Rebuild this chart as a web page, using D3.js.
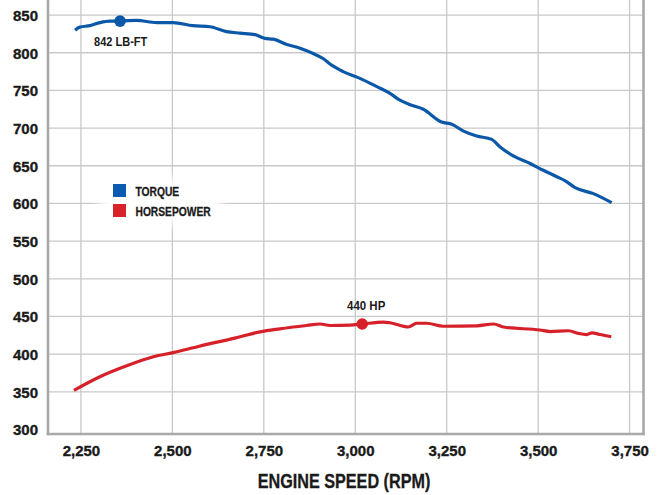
<!DOCTYPE html>
<html>
<head>
<meta charset="utf-8">
<script src="https://cdn.jsdelivr.net/npm/d3@7"></script>
<style>
  body { margin: 0; background: #fff; }
  svg { display: block; }
  .tick-label { font-family: "Liberation Sans", Arial, sans-serif; font-weight: bold; font-size: 15px; fill: #1a1a1a; stroke: #1a1a1a; stroke-width: 0.35px; }
  .narrow { font-family: "Liberation Sans", Arial, sans-serif; font-weight: bold; fill: #1a1a1a; stroke: #1a1a1a; stroke-width: 0.3px; }
  .note { font-family: "Liberation Sans", Arial, sans-serif; font-weight: bold; fill: #1a1a1a; }
</style>
</head>
<body>
<svg id="chart"></svg>
<script>
const W = 660, H = 495

// engine speed (rpm) / torque (lb-ft)
const torqueRpm = [2234, 2247, 2275, 2302, 2329, 2357, 2402, 2457, 2502, 2556, 2603, 2648, 2685, 2726, 2753, 2776, 2813, 2849, 2885, 2913, 2931, 2967, 3013, 3059, 3095, 3122, 3150, 3186, 3236, 3264, 3296, 3332, 3373, 3396, 3432, 3478, 3514, 3551, 3574, 3601, 3651, 3701]
const torqueVal = [830, 834, 836, 840, 842, 842, 843, 840, 840, 836, 834.5, 828, 826, 824, 819, 818, 811, 806, 799, 792, 785, 775, 766, 755, 746, 737, 731, 725, 708, 705, 696, 689.5, 685, 675, 663, 653, 644, 635.5, 630, 621, 613, 601]

// engine speed (rpm) / horsepower
const hpRpm = [2231, 2302, 2375, 2448, 2502, 2557, 2603, 2648, 2685, 2740, 2794, 2867, 2904, 2931, 2986, 3019, 3077, 3095, 3145, 3168, 3195, 3241, 3332, 3378, 3405, 3505, 3533, 3583, 3610, 3633, 3647, 3670, 3700]
const hpVal = [352, 370, 384.5, 396.5, 402, 408.5, 414, 418.6, 423, 429.6, 433.6, 438, 440, 438, 438.5, 440, 442.5, 441.6, 436, 441, 441, 437, 437.6, 440, 436, 432, 430, 431, 427.5, 426, 428.3, 426, 423]

const xTicks = [2250, 2500, 2750, 3000, 3250, 3500, 3750]
const yTicks = [300, 350, 400, 450, 500, 550, 600, 650, 700, 750, 800, 850]
const gridY = [350, 400, 450, 500, 550, 600, 650, 700, 750, 800, 850]

const peaks = [
  { rpm: 2357, val: 842, label: '842 LB-FT', color: '#0b58a8' },
  { rpm: 3019, val: 440, label: '440 HP', color: '#d6202a' },
]
const legendItems = [
  { label: 'TORQUE', color: '#0b5bb0' },
  { label: 'HORSEPOWER', color: '#d8232a' },
]

const svg = d3.select('#chart').attr('width', W).attr('height', H)

const x = d3.scaleLinear().domain([2160, 3788]).range([48, 643.5])
const y = d3.scaleLinear().domain([294, 870]).range([434, 0])

const defs = svg.append('defs')
defs.append('filter').attr('id', 'soft')
  .attr('x', '-20%').attr('y', '-40%').attr('width', '140%').attr('height', '180%')
  .append('feGaussianBlur').attr('stdDeviation', 6)

// grid
const grid = svg.append('g').attr('class', 'grid')
grid.selectAll('line.h').data(gridY).join('line')
  .attr('class', 'h')
  .attr('x1', x.range()[0]).attr('x2', x.range()[1])
  .attr('y1', d => y(d)).attr('y2', d => y(d))
  .attr('stroke', '#c9c9c9').attr('stroke-width', 1.3)
grid.selectAll('line.v').data(xTicks).join('line')
  .attr('class', 'v')
  .attr('x1', d => x(d)).attr('x2', d => x(d))
  .attr('y1', 0).attr('y2', y.range()[0])
  .attr('stroke', '#c9c9c9').attr('stroke-width', 1.3)

// white halo behind legend
svg.append('rect')
  .attr('x', 100).attr('y', 178).attr('width', 122).attr('height', 46)
  .attr('fill', '#fff').attr('filter', 'url(#soft)')

// frame
const frame = svg.append('g').attr('stroke', '#a9a9a9').attr('stroke-width', 2.6).attr('fill', 'none')
frame.append('line').attr('x1', x.range()[0]).attr('x2', x.range()[0]).attr('y1', 0).attr('y2', y.range()[0] + 1.3)
frame.append('line').attr('x1', x.range()[1]).attr('x2', x.range()[1]).attr('y1', 0).attr('y2', y.range()[0] + 1.3)
frame.append('line').attr('x1', x.range()[0] - 1.3).attr('x2', x.range()[1] + 1.3).attr('y1', y.range()[0]).attr('y2', y.range()[0])

// axes (labels only)
const axisY = d3.axisLeft(y).tickValues(yTicks).tickSize(0).tickPadding(0)
svg.append('g').attr('transform', 'translate(38,0)').call(axisY)
  .call(g => g.select('.domain').remove())
  .call(g => g.selectAll('text').attr('class', 'tick-label').attr('fill', null).attr('dy', '0.36em'))

const axisX = d3.axisBottom(x).tickValues(xTicks).tickSize(0).tickPadding(0).tickFormat(d3.format(','))
svg.append('g').attr('transform', 'translate(0,456)').call(axisX)
  .call(g => g.select('.domain').remove())
  .call(g => g.selectAll('text').attr('class', 'tick-label').attr('fill', null).attr('dy', 0))

// condensed look: bold sans squeezed horizontally
svg.append('text').attr('class', 'narrow')
  .attr('transform', 'translate(344,488) scale(0.81,1)')
  .attr('text-anchor', 'middle')
  .style('font-size', '20px').text('ENGINE SPEED (RPM)')

// curves
const line = d3.line().x(d => x(d[0])).y(d => y(d[1])).curve(d3.curveMonotoneX)
svg.append('path').datum(d3.zip(torqueRpm, torqueVal)).attr('d', line)
  .attr('fill', 'none').attr('stroke', '#0b58a8').attr('stroke-width', 3.2).attr('stroke-linejoin', 'round')
svg.append('path').datum(d3.zip(hpRpm, hpVal)).attr('d', line)
  .attr('fill', 'none').attr('stroke', '#d6202a').attr('stroke-width', 3.2).attr('stroke-linejoin', 'round')

// peak markers
svg.selectAll('circle.peak').data(peaks).join('circle')
  .attr('class', 'peak')
  .attr('cx', d => x(d.rpm)).attr('cy', d => y(d.val)).attr('r', 5.8)
  .attr('fill', d => d.color)
svg.append('text').attr('class', 'note')
  .attr('transform', 'translate(94,46) scale(0.92,1)')
  .style('font-size', '12px').text(peaks[0].label)
svg.append('text').attr('class', 'note')
  .attr('transform', 'translate(347,310) scale(0.92,1)')
  .style('font-size', '12.5px').text(peaks[1].label)

// legend
const lg = svg.append('g').attr('transform', 'translate(113,184)')
lg.selectAll('rect').data(legendItems).join('rect')
  .attr('x', 0).attr('y', (d, i) => i * 20)
  .attr('width', 13).attr('height', 13)
  .attr('fill', d => d.color)
lg.selectAll('text').data(legendItems).join('text')
  .attr('class', 'narrow')
  .attr('transform', (d, i) => `translate(22.5,${12 + i * 20}) scale(0.82,1)`)
  .style('font-size', '12.5px')
  .text(d => d.label)
</script>
</body>
</html>
